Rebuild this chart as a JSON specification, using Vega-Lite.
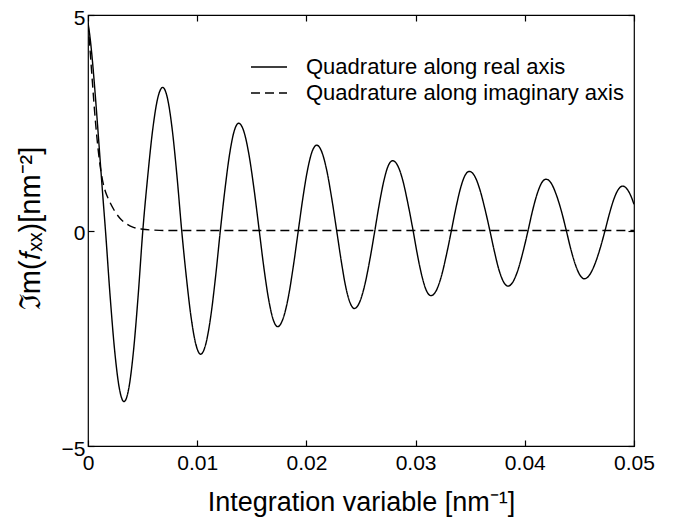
{
  "$schema": "https://vega.github.io/schema/vega-lite/v6.json",
  "width": 546,
  "height": 431,
  "autosize": {"type": "none"},
  "padding": {"left": 88, "top": 15, "right": 39, "bottom": 71},
  "background": "white",
  "config": {
    "view": {"stroke": "#000", "strokeWidth": 1.2},
    "font": "Liberation Sans",
    "axis": {"grid": false, "domain": false, "tickColor": "#000", "tickSize": -6, "tickWidth": 1.2, "labelColor": "#000", "titleColor": "#000", "labelFont": "Liberation Sans", "titleFont": "Liberation Sans", "labelFontSize": 21, "titleFontWeight": "normal"}
  },
  "datasets": {
    "curves": [
      {"x": 0, "y": 4.82, "s": "Quadrature along real axis"},
      {"x": 0.0002, "y": 4.45, "s": "Quadrature along real axis"},
      {"x": 0.0004, "y": 3.95, "s": "Quadrature along real axis"},
      {"x": 0.0006, "y": 3.35, "s": "Quadrature along real axis"},
      {"x": 0.0008, "y": 2.70, "s": "Quadrature along real axis"},
      {"x": 0.001, "y": 2.02, "s": "Quadrature along real axis"},
      {"x": 0.0012, "y": 1.33, "s": "Quadrature along real axis"},
      {"x": 0.0014, "y": 0.66, "s": "Quadrature along real axis"},
      {"x": 0.0016, "y": 0, "s": "Quadrature along real axis"},
      {"x": 0.002025, "y": -1.52, "s": "Quadrature along real axis"},
      {"x": 0.00245, "y": -2.81, "s": "Quadrature along real axis"},
      {"x": 0.002875, "y": -3.67, "s": "Quadrature along real axis"},
      {"x": 0.0033, "y": -3.97, "s": "Quadrature along real axis"},
      {"x": 0.00373, "y": -3.67, "s": "Quadrature along real axis"},
      {"x": 0.00416, "y": -2.81, "s": "Quadrature along real axis"},
      {"x": 0.00459, "y": -1.52, "s": "Quadrature along real axis"},
      {"x": 0.00502, "y": 0, "s": "Quadrature along real axis"},
      {"x": 0.005475, "y": 1.27, "s": "Quadrature along real axis"},
      {"x": 0.00593, "y": 2.35, "s": "Quadrature along real axis"},
      {"x": 0.006385, "y": 3.07, "s": "Quadrature along real axis"},
      {"x": 0.00684, "y": 3.32, "s": "Quadrature along real axis"},
      {"x": 0.007275, "y": 3.07, "s": "Quadrature along real axis"},
      {"x": 0.00771, "y": 2.35, "s": "Quadrature along real axis"},
      {"x": 0.008145, "y": 1.27, "s": "Quadrature along real axis"},
      {"x": 0.00858, "y": 0, "s": "Quadrature along real axis"},
      {"x": 0.009015, "y": -1.10, "s": "Quadrature along real axis"},
      {"x": 0.00945, "y": -2.03, "s": "Quadrature along real axis"},
      {"x": 0.009885, "y": -2.65, "s": "Quadrature along real axis"},
      {"x": 0.01032, "y": -2.87, "s": "Quadrature along real axis"},
      {"x": 0.01077, "y": -2.65, "s": "Quadrature along real axis"},
      {"x": 0.01122, "y": -2.03, "s": "Quadrature along real axis"},
      {"x": 0.01167, "y": -1.10, "s": "Quadrature along real axis"},
      {"x": 0.01212, "y": 0, "s": "Quadrature along real axis"},
      {"x": 0.01254, "y": 0.95, "s": "Quadrature along real axis"},
      {"x": 0.01296, "y": 1.76, "s": "Quadrature along real axis"},
      {"x": 0.01338, "y": 2.30, "s": "Quadrature along real axis"},
      {"x": 0.0138, "y": 2.49, "s": "Quadrature along real axis"},
      {"x": 0.01427, "y": 2.30, "s": "Quadrature along real axis"},
      {"x": 0.01474, "y": 1.76, "s": "Quadrature along real axis"},
      {"x": 0.01521, "y": 0.95, "s": "Quadrature along real axis"},
      {"x": 0.01568, "y": 0, "s": "Quadrature along real axis"},
      {"x": 0.0161, "y": -0.85, "s": "Quadrature along real axis"},
      {"x": 0.01653, "y": -1.58, "s": "Quadrature along real axis"},
      {"x": 0.01695, "y": -2.06, "s": "Quadrature along real axis"},
      {"x": 0.01737, "y": -2.23, "s": "Quadrature along real axis"},
      {"x": 0.01784, "y": -2.06, "s": "Quadrature along real axis"},
      {"x": 0.01832, "y": -1.58, "s": "Quadrature along real axis"},
      {"x": 0.01879, "y": -0.85, "s": "Quadrature along real axis"},
      {"x": 0.01926, "y": 0, "s": "Quadrature along real axis"},
      {"x": 0.01968, "y": 0.76, "s": "Quadrature along real axis"},
      {"x": 0.0201, "y": 1.40, "s": "Quadrature along real axis"},
      {"x": 0.02052, "y": 1.83, "s": "Quadrature along real axis"},
      {"x": 0.02094, "y": 1.98, "s": "Quadrature along real axis"},
      {"x": 0.0214, "y": 1.83, "s": "Quadrature along real axis"},
      {"x": 0.02186, "y": 1.40, "s": "Quadrature along real axis"},
      {"x": 0.02231, "y": 0.76, "s": "Quadrature along real axis"},
      {"x": 0.02277, "y": 0, "s": "Quadrature along real axis"},
      {"x": 0.02318, "y": -0.69, "s": "Quadrature along real axis"},
      {"x": 0.02358, "y": -1.28, "s": "Quadrature along real axis"},
      {"x": 0.02399, "y": -1.67, "s": "Quadrature along real axis"},
      {"x": 0.02439, "y": -1.81, "s": "Quadrature along real axis"},
      {"x": 0.02486, "y": -1.67, "s": "Quadrature along real axis"},
      {"x": 0.02533, "y": -1.28, "s": "Quadrature along real axis"},
      {"x": 0.0258, "y": -0.69, "s": "Quadrature along real axis"},
      {"x": 0.02627, "y": 0, "s": "Quadrature along real axis"},
      {"x": 0.02668, "y": 0.62, "s": "Quadrature along real axis"},
      {"x": 0.02709, "y": 1.15, "s": "Quadrature along real axis"},
      {"x": 0.02749, "y": 1.50, "s": "Quadrature along real axis"},
      {"x": 0.0279, "y": 1.62, "s": "Quadrature along real axis"},
      {"x": 0.02837, "y": 1.50, "s": "Quadrature along real axis"},
      {"x": 0.02884, "y": 1.15, "s": "Quadrature along real axis"},
      {"x": 0.0293, "y": 0.62, "s": "Quadrature along real axis"},
      {"x": 0.02977, "y": 0, "s": "Quadrature along real axis"},
      {"x": 0.03018, "y": -0.58, "s": "Quadrature along real axis"},
      {"x": 0.03059, "y": -1.07, "s": "Quadrature along real axis"},
      {"x": 0.031, "y": -1.40, "s": "Quadrature along real axis"},
      {"x": 0.03141, "y": -1.51, "s": "Quadrature along real axis"},
      {"x": 0.03188, "y": -1.40, "s": "Quadrature along real axis"},
      {"x": 0.03235, "y": -1.07, "s": "Quadrature along real axis"},
      {"x": 0.03281, "y": -0.58, "s": "Quadrature along real axis"},
      {"x": 0.03328, "y": 0, "s": "Quadrature along real axis"},
      {"x": 0.03369, "y": 0.52, "s": "Quadrature along real axis"},
      {"x": 0.0341, "y": 0.97, "s": "Quadrature along real axis"},
      {"x": 0.03451, "y": 1.27, "s": "Quadrature along real axis"},
      {"x": 0.03492, "y": 1.37, "s": "Quadrature along real axis"},
      {"x": 0.03539, "y": 1.27, "s": "Quadrature along real axis"},
      {"x": 0.03586, "y": 0.97, "s": "Quadrature along real axis"},
      {"x": 0.03633, "y": 0.52, "s": "Quadrature along real axis"},
      {"x": 0.0368, "y": 0, "s": "Quadrature along real axis"},
      {"x": 0.03722, "y": -0.49, "s": "Quadrature along real axis"},
      {"x": 0.03763, "y": -0.91, "s": "Quadrature along real axis"},
      {"x": 0.03805, "y": -1.19, "s": "Quadrature along real axis"},
      {"x": 0.03846, "y": -1.29, "s": "Quadrature along real axis"},
      {"x": 0.03892, "y": -1.19, "s": "Quadrature along real axis"},
      {"x": 0.03938, "y": -0.91, "s": "Quadrature along real axis"},
      {"x": 0.03984, "y": -0.49, "s": "Quadrature along real axis"},
      {"x": 0.0403, "y": 0, "s": "Quadrature along real axis"},
      {"x": 0.04071, "y": 0.46, "s": "Quadrature along real axis"},
      {"x": 0.04112, "y": 0.84, "s": "Quadrature along real axis"},
      {"x": 0.04153, "y": 1.10, "s": "Quadrature along real axis"},
      {"x": 0.04194, "y": 1.19, "s": "Quadrature along real axis"},
      {"x": 0.04241, "y": 1.10, "s": "Quadrature along real axis"},
      {"x": 0.04287, "y": 0.84, "s": "Quadrature along real axis"},
      {"x": 0.04334, "y": 0.46, "s": "Quadrature along real axis"},
      {"x": 0.0438, "y": 0, "s": "Quadrature along real axis"},
      {"x": 0.04421, "y": -0.43, "s": "Quadrature along real axis"},
      {"x": 0.04463, "y": -0.79, "s": "Quadrature along real axis"},
      {"x": 0.04504, "y": -1.03, "s": "Quadrature along real axis"},
      {"x": 0.04545, "y": -1.12, "s": "Quadrature along real axis"},
      {"x": 0.04593, "y": -1.03, "s": "Quadrature along real axis"},
      {"x": 0.0464, "y": -0.79, "s": "Quadrature along real axis"},
      {"x": 0.04688, "y": -0.43, "s": "Quadrature along real axis"},
      {"x": 0.04735, "y": 0, "s": "Quadrature along real axis"},
      {"x": 0.04775, "y": 0.39, "s": "Quadrature along real axis"},
      {"x": 0.04816, "y": 0.73, "s": "Quadrature along real axis"},
      {"x": 0.04856, "y": 0.95, "s": "Quadrature along real axis"},
      {"x": 0.04896, "y": 1.03, "s": "Quadrature along real axis"},
      {"x": 0.0494, "y": 0.95, "s": "Quadrature along real axis"},
      {"x": 0.0497, "y": 0.81, "s": "Quadrature along real axis"},
      {"x": 0.05, "y": 0.61, "s": "Quadrature along real axis"},
      {"x": 0, "y": 4.82, "s": "Quadrature along imaginary axis"},
      {"x": 0.0002, "y": 4.15, "s": "Quadrature along imaginary axis"},
      {"x": 0.0004, "y": 3.45, "s": "Quadrature along imaginary axis"},
      {"x": 0.0006, "y": 2.78, "s": "Quadrature along imaginary axis"},
      {"x": 0.0008, "y": 2.2, "s": "Quadrature along imaginary axis"},
      {"x": 0.001, "y": 1.72, "s": "Quadrature along imaginary axis"},
      {"x": 0.0012, "y": 1.35, "s": "Quadrature along imaginary axis"},
      {"x": 0.0014, "y": 1.08, "s": "Quadrature along imaginary axis"},
      {"x": 0.0016, "y": 0.9, "s": "Quadrature along imaginary axis"},
      {"x": 0.0018, "y": 0.77, "s": "Quadrature along imaginary axis"},
      {"x": 0.002, "y": 0.66, "s": "Quadrature along imaginary axis"},
      {"x": 0.0024, "y": 0.47, "s": "Quadrature along imaginary axis"},
      {"x": 0.0029, "y": 0.29, "s": "Quadrature along imaginary axis"},
      {"x": 0.0035, "y": 0.16, "s": "Quadrature along imaginary axis"},
      {"x": 0.0041, "y": 0.08, "s": "Quadrature along imaginary axis"},
      {"x": 0.005, "y": 0.03, "s": "Quadrature along imaginary axis"},
      {"x": 0.006, "y": 0.01, "s": "Quadrature along imaginary axis"},
      {"x": 0.007, "y": 0, "s": "Quadrature along imaginary axis"},
      {"x": 0.05, "y": 0, "s": "Quadrature along imaginary axis"}
    ]
  },
  "data": {"name": "curves"},
  "resolve": {"axis": {"x": "independent", "y": "independent"}},
  "layer": [
    {
      "mark": {"type": "line", "color": "#000", "strokeWidth": 1.4, "interpolate": "monotone", "clip": true},
      "encoding": {
        "x": {"field": "x", "type": "quantitative", "scale": {"domain": [0, 0.05], "nice": false, "zero": false},
          "axis": {"values": [0, 0.01, 0.02, 0.03, 0.04, 0.05], "labelExpr": "datum.value == 0 ? '0' : format(datum.value, '.2f')", "labelFlush": false, "labelPadding": 12, "title": "Integration variable [nm⁻¹]", "titleFontSize": 27, "titleX": 273, "titleY": 64, "titleBaseline": "alphabetic", "titleAlign": "center"}},
        "y": {"field": "y", "type": "quantitative", "scale": {"domain": [-5, 5], "nice": false, "zero": false},
          "axis": {"values": [-5, 0, 5], "labelPadding": 9, "labelOffset": 3, "title": "ℑm(𝑓ₓₓ)[nm⁻²]", "titleFontSize": 29, "titleAngle": -90, "titleX": -58, "titleY": 213, "titleBaseline": "middle", "titleAlign": "center"}},
        "strokeDash": {"field": "s", "type": "nominal",
          "scale": {"domain": ["Quadrature along real axis", "Quadrature along imaginary axis"], "range": [[1, 0], [9, 5]]},
          "legend": {"title": null, "orient": "none", "legendX": 162, "legendY": 40, "labelFontSize": 22, "labelLimit": 500, "labelFont": "Liberation Sans", "labelColor": "#000", "symbolType": "stroke", "symbolSize": 1296, "symbolStrokeWidth": 1.4, "symbolStrokeColor": "#000", "clipHeight": 24, "labelOffset": 18, "padding": 0}},
        "order": {"field": "x", "type": "quantitative"}
      }
    },
    {
      "mark": {"type": "point", "opacity": 0},
      "encoding": {
        "x": {"field": "x", "type": "quantitative", "axis": {"orient": "top", "values": [0, 0.01, 0.02, 0.03, 0.04, 0.05], "labels": false, "title": null}},
        "y": {"field": "y", "type": "quantitative", "axis": {"orient": "right", "values": [-5, 0, 5], "labels": false, "title": null}}
      }
    }
  ]
}
